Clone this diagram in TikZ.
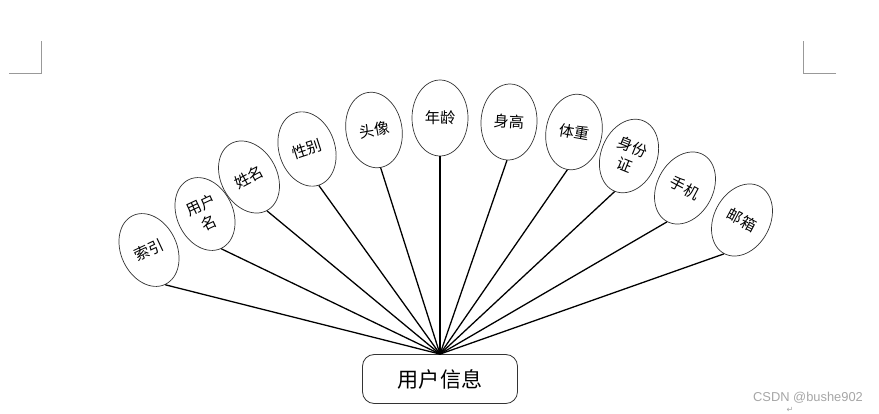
\documentclass[tikz,border=0pt]{standalone}
\usepackage{fontspec}
\newfontfamily\cjk{Noto Sans CJK SC}
\usepackage{tikz}
\usetikzlibrary{shapes.geometric, positioning}

\begin{document}
\begin{tikzpicture}[x=0.3mm, y=-0.3mm,
    attr/.style={draw=black!80, line width=0.6pt, ellipse, minimum width=16.8mm,
        minimum height=22.8mm, inner sep=0pt, align=center,
        font=\cjk\fontsize{13pt}{17pt}\selectfont},
    entity/.style={draw=black!80, line width=0.7pt, rounded corners=3.5mm,
        minimum width=46.5mm, minimum height=14.7mm, font=\cjk\fontsize{18pt}{20pt}\selectfont},
    link/.style={line width=1.1pt}]
    \useasboundingbox (0,0) rectangle (879,414);

    % page corner marks
    \draw[gray!80, line width=0.8pt] (9,73) -- (41,73) -- (41,41);
    \draw[gray!80, line width=0.8pt] (836,73) -- (803,73) -- (803,41);

    % entity
    \node[entity] (user) at (440,379) {用户信息};

    % attributes: index/x/y/tilt/text
    \foreach \i/\x/\y/\r/\t in {1/149/250/25/索引, 2/205/214/25/{用户\\名},
        3/249/177/28/姓名, 4/307/149/18/性别, 5/374/130/10/头像,
        6/440/118/0/年龄, 7/509/122/-3/身高, 8/574/132/-10/体重,
        9/629/156/-22/{身份\\证}, 10/685/188/-28/手机, 11/742/220/-28/邮箱} {
        \node[attr, rotate=\r] (a\i) at (\x,\y) {\t};
        \draw[link] (user.north) -- (a\i.south);
    }

    % watermark
    \node[text=gray!70, font=\fontspec{Liberation Sans}\fontsize{11pt}{12pt}\selectfont] (mark) at (808,398) {CSDN @bushe902};
    \node[text=gray!70, font=\fontspec{DejaVu Sans}\fontsize{7pt}{8pt}\selectfont] (ret) at (790,410) {↵};
\end{tikzpicture}
\end{document}
